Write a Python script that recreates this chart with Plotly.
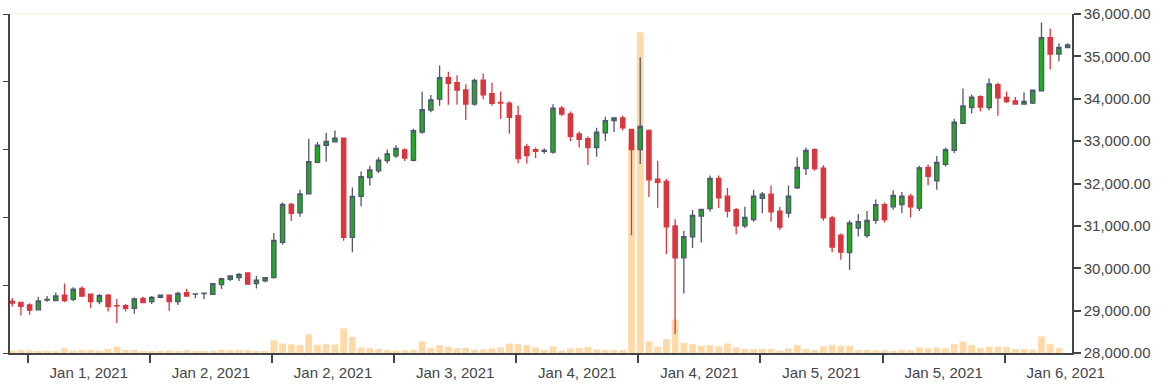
import pandas as pd
import plotly.graph_objects as go

# ---- data (hourly candles) ----
start = "2021-01-01 14:20"
opens = [29220, 29196, 29135, 29019, 29250, 29235, 29368, 29266, 29522, 29391,
         29212, 29368, 29120, 29119, 29056, 29290, 29212, 29312, 29368, 29212,
         29422, 29390, 29400, 29382, 29615, 29740, 29779, 29888, 29639, 29701,
         29780, 30610, 31504, 31310, 31753, 32500, 32903, 32980, 33073, 30727,
         31698, 32140, 32300, 32540, 32650, 32790, 32545, 33214, 33734, 33990,
         34497, 34380, 34207, 33874, 34441, 34123, 33915, 33897, 33600, 32870,
         32800, 32760, 32740, 33780, 33640, 33170, 33058, 32849, 33198, 33485,
         33548, 33275, 32802, 33252, 32103, 32048, 31000, 30245, 30743, 31233,
         31410, 32120, 31700, 31380, 31000, 31150, 31650, 31750, 31350, 31300,
         31900, 32350, 32800, 32360, 31190, 30780, 30370, 30950, 30770, 31130,
         31500, 31450, 31500, 31700, 31420, 32380, 32060, 32450, 32780, 33420,
         33790, 34050, 33790, 34330, 34030, 33950, 33874, 33897, 34184, 35443,
         35055, 35210]
highs = [29300, 29200, 29172, 29329, 29345, 29429, 29639, 29550, 29578, 29406,
         29391, 29391, 29275, 29158, 29312, 29329, 29345, 29368, 29380, 29445,
         29508, 29400, 29410, 29650, 29778, 29833, 29888, 29900, 29818, 29795,
         30830, 31550, 31543, 31853, 33058, 32980, 33198, 33252, 33080, 31908,
         32281, 32420, 32620, 32800, 32900, 32830, 33290, 34170, 34091, 34783,
         34636, 34557, 34340, 34480, 34597, 34380, 34170, 33937, 33835, 32940,
         32850, 32830, 33870, 33830, 33700, 33230, 33112, 33315, 33578, 33548,
         33601, 33290, 34977, 33275, 32538, 32110, 31154, 30883, 31373, 31403,
         32190, 32190, 31900, 31420, 31450, 31850, 31800, 31950, 31450, 31950,
         32620, 32850, 32830, 32430, 31240, 30820, 31130, 31280, 31350, 31620,
         31550, 31840, 31800, 31750, 32420, 32450, 32650, 32850, 33530, 34240,
         34100, 34080, 34480, 34380, 34170, 34044, 34147, 34200, 35800, 35660,
         35312, 35310]
lows = [29100, 28886, 28902, 29019, 29212, 29235, 29196, 29220, 29322, 29056,
        29150, 28979, 28706, 28979, 28925, 29189, 29158, 29290, 29000, 29135,
        29345, 29290, 29275, 29370, 29508, 29700, 29701, 29624, 29522, 29670,
        29760, 30560, 31116, 31217, 31753, 32476, 32515, 32980, 30650, 30378,
        31466, 31950, 32250, 32480, 32600, 32530, 32520, 33175, 33680, 33835,
        33858, 33858, 33500, 33835, 33990, 33835, 33525, 33175, 32480, 32470,
        32600, 32700, 32700, 33590, 33000, 32850, 32436, 32632, 33004, 33214,
        33252, 30781, 32460, 31683, 31427, 30338, 28450, 29405, 30478, 30610,
        31340, 31420, 31200, 30800, 30950, 31100, 31300, 31100, 30900, 31200,
        31870, 32200, 32300, 31120, 30380, 30200, 29960, 30750, 30720, 31050,
        31080, 31380, 31300, 31200, 31350, 31960, 31850, 32400, 32720, 33400,
        33650, 33700, 33730, 33600, 33897, 33874, 33874, 33874, 34184, 34690,
        34883, 35210]
closes = [29180, 29103, 29010, 29228, 29265, 29345, 29235, 29508, 29345, 29212,
          29352, 29096, 29110, 29056, 29275, 29189, 29312, 29368, 29212, 29406,
          29345, 29395, 29410, 29639, 29755, 29818, 29857, 29624, 29718, 29779,
          30660, 31504, 31294, 31753, 32515, 32903, 32996, 33073, 30727, 31698,
          32164, 32320, 32550, 32700, 32830, 32600, 33245, 33741, 33974, 34497,
          34364, 34207, 33874, 34434, 34091, 33890, 33900, 33564, 32590, 32660,
          32760, 32780, 33780, 33640, 33110, 33040, 32849, 33214, 33485, 33548,
          33315, 32802, 33345, 32086, 32025, 30976, 30245, 30743, 31247, 31387,
          32120, 31660, 31350, 31000, 31200, 31700, 31750, 31330, 30970, 31700,
          32380, 32780, 32350, 31190, 30500, 30380, 31070, 31100, 31130, 31500,
          31150, 31720, 31700, 31450, 32370, 32170, 32500, 32800, 33450, 33830,
          34040, 33800, 34350, 34020, 33935, 33874, 33936, 34200, 35443, 35055,
          35210, 35272]
volumes = [170, 240, 200, 150, 150, 150, 360, 170, 220, 220,
           170, 290, 460, 220, 240, 120, 100, 100, 200, 150,
           220, 120, 120, 170, 240, 200, 220, 220, 150, 120,
           940, 700, 650, 580, 1380, 600, 650, 630, 1810, 1180,
           410, 360, 290, 240, 170, 200, 240, 850, 360, 580,
           460, 360, 380, 240, 270, 340, 410, 700, 650, 580,
           410, 220, 490, 170, 340, 380, 460, 270, 220, 220,
           220, 15500, 23640, 870, 460, 1020, 2470, 750, 650, 530,
           580, 490, 700, 410, 290, 290, 290, 290, 170, 340,
           580, 290, 220, 490, 600, 530, 530, 220, 220, 200,
           200, 150, 240, 200, 410, 360, 410, 340, 650, 850,
           580, 360, 460, 460, 460, 290, 290, 240, 1210, 650,
           360, 0]

times = pd.date_range(start=start, periods=len(opens), freq="h")

x_range = ["2021-01-01 14:05", "2021-01-06 15:50"]
price_range = [28000, 36000]
volume_range = [0, 25000]

# ---- styles ----
GREEN = "#22aa22"
GREEN_LINE = "#4c5a69"
RED = "#d9373e"
VOL = "#ffdaa8"
AXIS = "#444444"
FONT = "Liberation Sans, Arial, sans-serif"

fig = go.Figure()
fig.add_trace(go.Bar(
    x=times, y=volumes, yaxis="y",
    marker=dict(color=VOL, line=dict(width=0)),
    showlegend=False, hoverinfo="skip",
))
fig.add_trace(go.Candlestick(
    x=times, open=opens, high=highs, low=lows, close=closes, yaxis="y2",
    increasing=dict(line=dict(color=GREEN_LINE, width=1.3), fillcolor=GREEN),
    decreasing=dict(line=dict(color=RED, width=1.3), fillcolor=RED),
    whiskerwidth=0, showlegend=False,
))

fig.update_layout(
    width=1175, height=389, autosize=False,
    margin=dict(l=5, r=103, t=8, b=36),
    paper_bgcolor="white", plot_bgcolor="white",
    font=dict(family=FONT, size=15, color=AXIS),
    bargap=0.22, boxgap=0.3, boxgroupgap=0.3,
    xaxis=dict(
        type="date", range=x_range,
        tick0="2021-01-01 16:07", dtick=14 * 3600 * 1000,
        tickformat="%b %-d, %Y", ticklabelmode="period",
        ticks="outside", ticklen=8, tickwidth=1.5, tickcolor=AXIS,
        showline=True, linecolor=AXIS, linewidth=1.5,
        showgrid=False, zeroline=False,
        rangeslider=dict(visible=False),
        ticklabelstandoff=-3, ticklabeloverflow="allow",
        tickfont=dict(family=FONT, size=15, color=AXIS),
    ),
    yaxis=dict(
        side="left", range=volume_range, dtick=5000,
        showticklabels=False, ticks="outside", ticklen=5, tickcolor=AXIS,
        showline=True, linecolor=AXIS, linewidth=1.5,
        showgrid=False, zeroline=False, fixedrange=True,
    ),
    yaxis2=dict(
        overlaying="y", side="right", range=price_range, dtick=1000,
        tickformat=",.2f", ticks="outside", ticklen=7, tickwidth=1.5, tickcolor=AXIS,
        showline=True, linecolor=AXIS, linewidth=1.5,
        showgrid=False, zeroline=False, ticklabeloverflow="allow",
        tickfont=dict(family=FONT, size=15, color=AXIS),
    ),
    shapes=[dict(type="line", xref="paper", yref="paper", x0=0, x1=1, y0=1, y1=1,
                 line=dict(color="#f7efd6", width=1))],
)

fig.write_html("out.html", config={"displayModeBar": False},
               post_script="document.body.style.margin='0';document.body.style.overflow='hidden';")
